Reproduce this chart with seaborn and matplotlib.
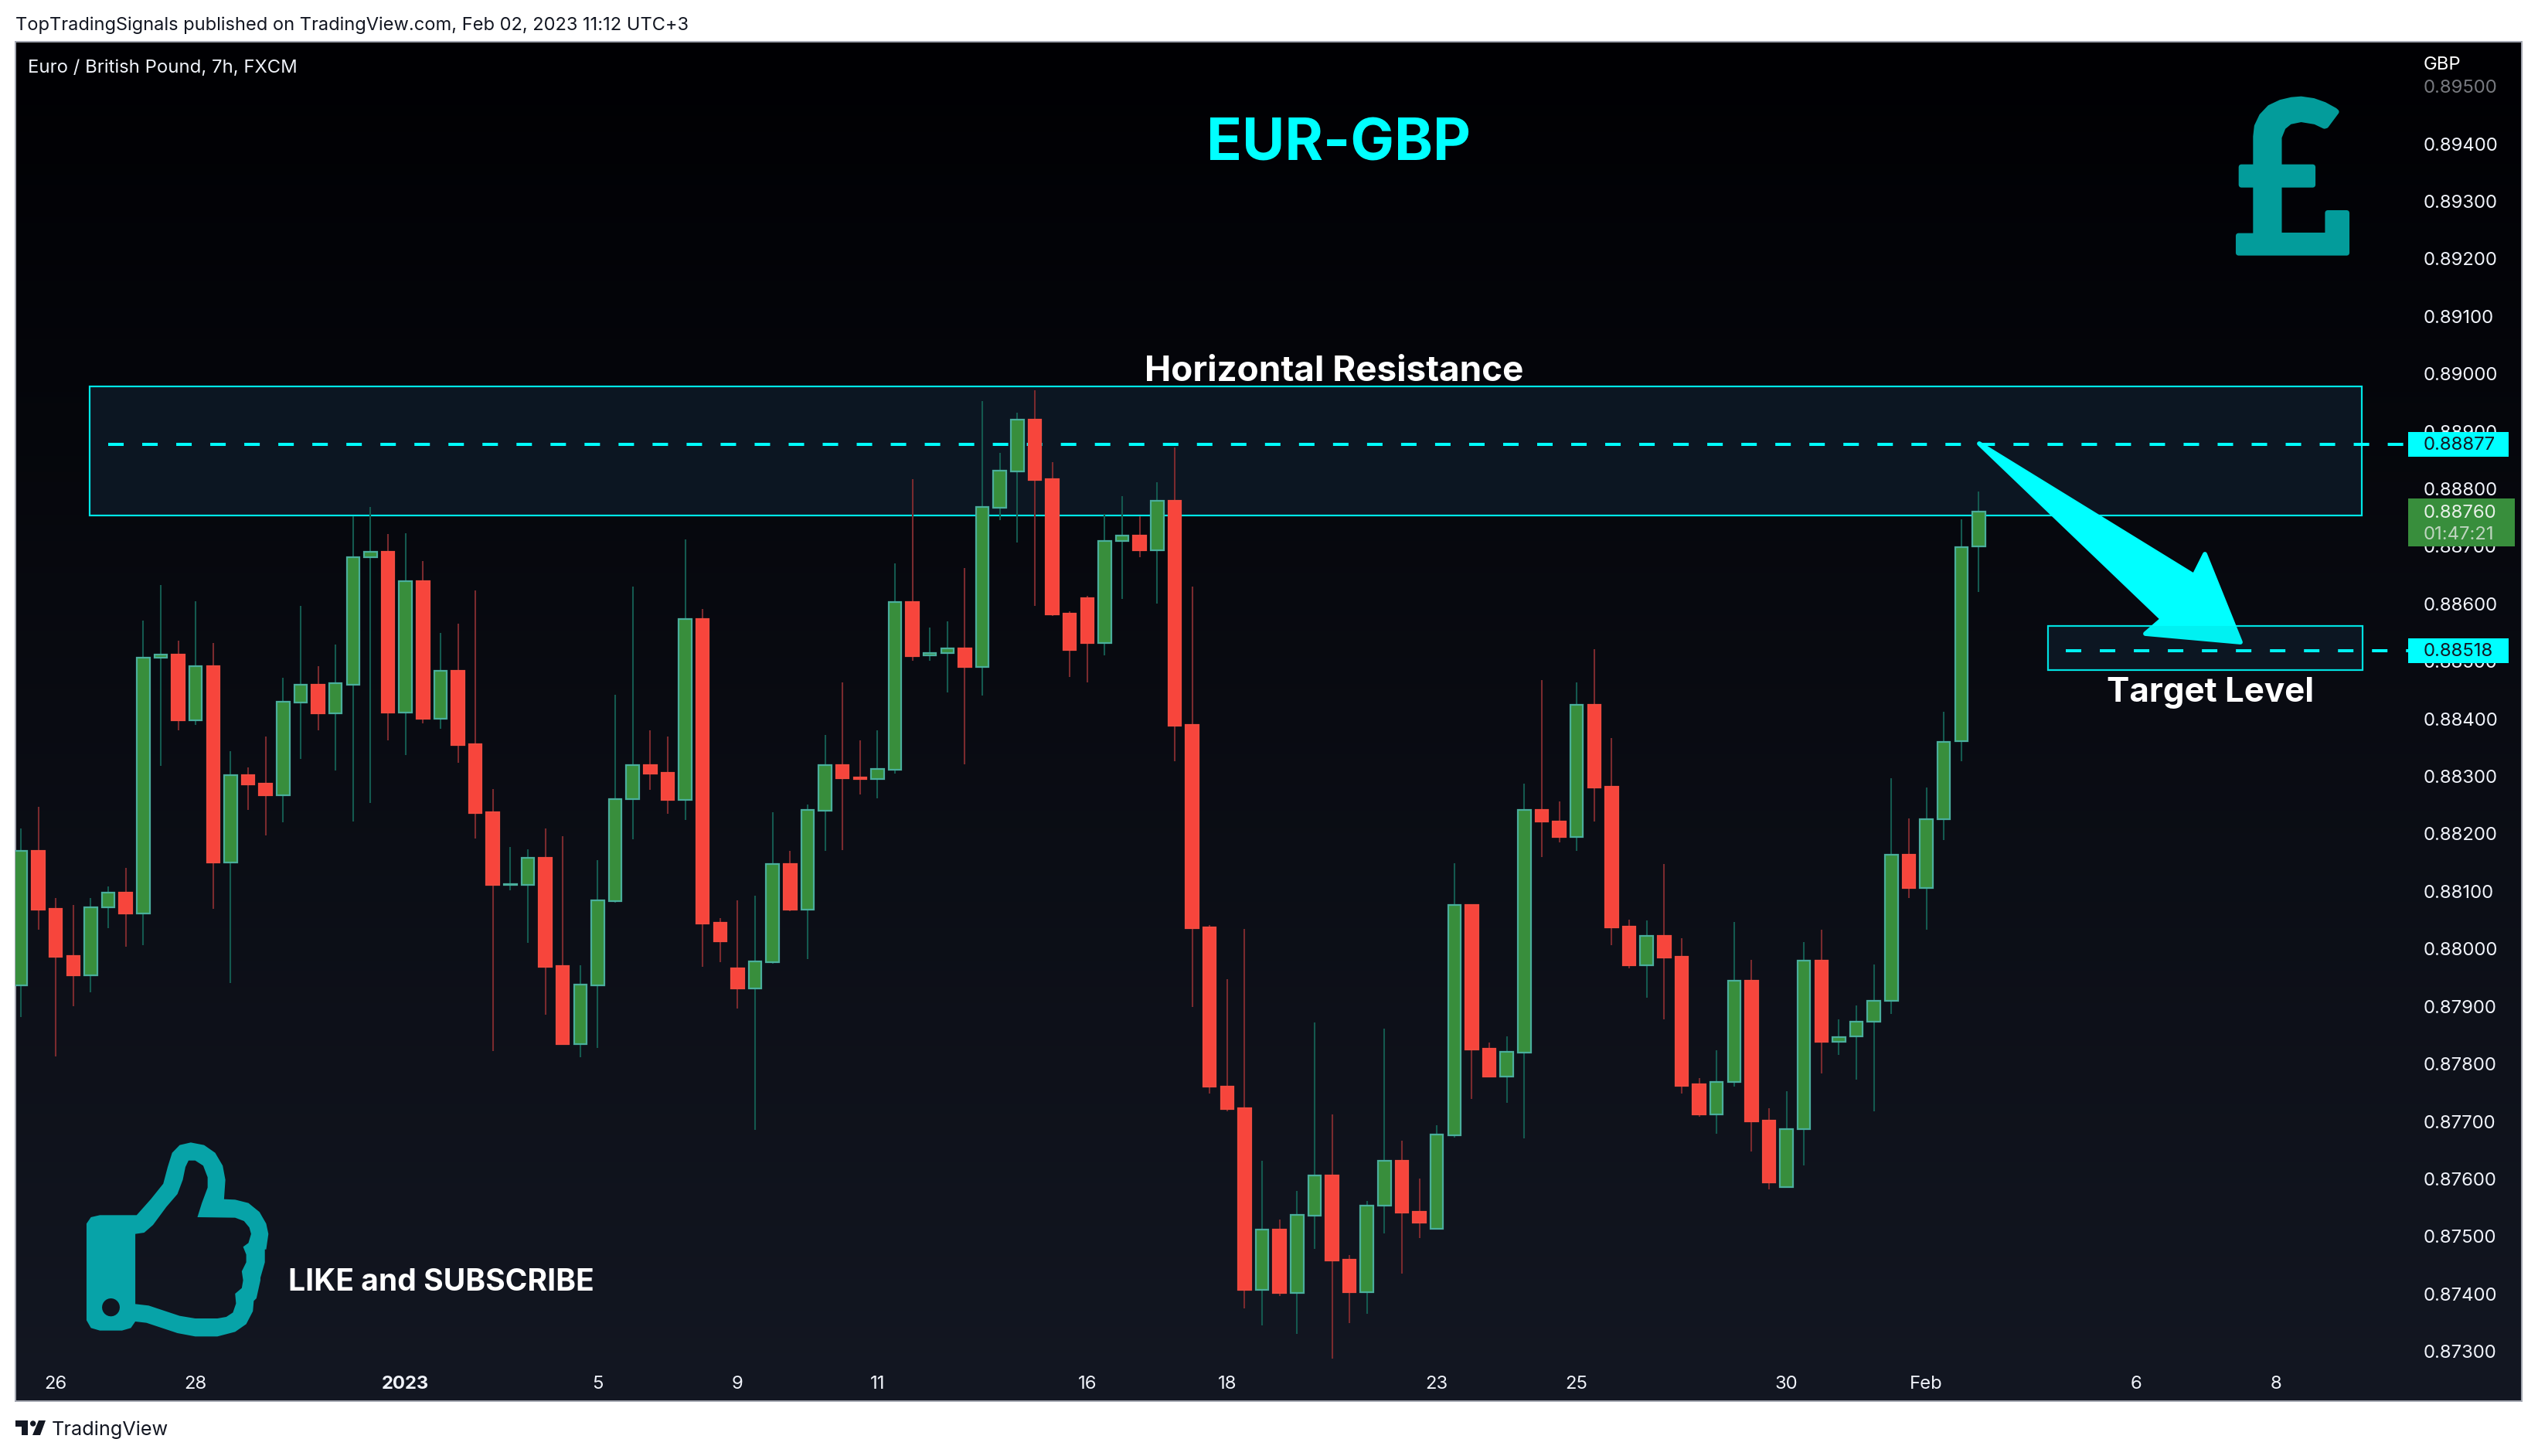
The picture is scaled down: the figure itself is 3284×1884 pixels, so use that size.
import numpy as np
import pandas as pd
import matplotlib
matplotlib.use("Agg")
import matplotlib.pyplot as plt
from matplotlib.colors import LinearSegmentedColormap
from matplotlib.patches import Polygon, Rectangle, Ellipse, PathPatch
from matplotlib.path import Path
import seaborn as sns

# ---------- data (prices in 1e-5 GBP) ----------
directions = ("GRRRGGRGGR" "GRGRRGGRGG" "GRGRGRRRGG" "RRGGGGRRGR" "RRGGRGGRRG" "GRGGRGGGRR"
              "RRGGRGRRRR" "RGRGGRRGGR" "RGGRRGGRRG" "RRRGRRRGGR" "RGGRGGGGRG" "GGG")
highs = [88209,88247,88088,88076,88088,88109,88141,88571,88633,88536,
         88605,88532,88344,88316,88370,88471,88597,88491,88529,88752,
         88769,88721,88723,88674,88550,88566,88623,88278,88177,88173,
         88209,88196,87972,88154,88442,88630,88380,88369,88712,88591,
         88054,88085,88092,88237,88170,88251,88372,88463,88362,88380,
         88670,88817,88559,88570,88663,88953,88862,88933,88971,88846,
         88587,88614,88757,88788,88753,88811,88872,88630,88042,87947,
         88035,87632,87529,87579,87872,87712,87468,87562,87861,87666,
         87601,87693,88149,88076,87837,87848,88288,88468,88257,88463,
         88521,88367,88051,88049,88147,88019,87775,87824,88047,87981,
         87723,87753,88012,88033,87878,87901,87973,88297,88227,88281,
         88413,88747,88796]
body_tops = [88171,88171,88070,87988,88072,88098,88098,88506,88512,88512,
             88491,88491,88302,88302,88287,88430,88460,88460,88462,88681,
             88690,88690,88640,88640,88483,88483,88356,88238,88113,88158,
             88158,87970,87938,88084,88261,88319,88319,88306,88574,88574,
             88045,87966,87978,88147,88147,88241,88319,88319,88298,88313,
             88603,88603,88514,88523,88523,88768,88832,88920,88920,88817,
             88583,88610,88710,88719,88719,88779,88779,88389,88037,87760,
             87723,87512,87512,87538,87606,87606,87459,87553,87632,87632,
             87543,87677,88076,88076,87827,87821,88241,88241,88221,88425,
             88425,88282,88039,88022,88022,87986,87764,87768,87945,87945,
             87701,87686,87980,87980,87847,87873,87910,88164,88164,88225,
             88360,88699,88760]
body_bottoms = [87937,88068,87986,87954,87954,88072,88062,88062,88506,88398,
                88398,88150,88150,88286,88267,88267,88429,88410,88410,88460,
                88681,88411,88411,88400,88400,88354,88236,88111,88111,88111,
                87969,87834,87834,87937,88083,88260,88305,88259,88259,88044,
                88013,87931,87931,87977,88068,88068,88240,88297,88295,88295,
                88312,88509,88510,88514,88490,88490,88767,88831,88815,88582,
                88520,88532,88532,88710,88693,88693,88388,88036,87760,87722,
                87407,87407,87401,87401,87536,87458,87403,87403,87553,87542,
                87524,87513,87676,87825,87778,87778,87820,88221,88194,88194,
                88281,88037,87972,87972,87985,87762,87712,87712,87768,87700,
                87594,87586,87686,87838,87838,87848,87874,87910,88106,88106,
                88225,88361,88700]
lows = [87882,88034,87813,87900,87924,88036,88004,88006,88318,88380,
        88390,88070,87941,88241,88197,88220,88331,88380,88310,88222,
        88254,88362,88337,88392,88383,88323,88192,87822,88102,88011,
        87885,87834,87812,87828,88080,88191,88277,88235,88224,87969,
        87977,87896,87685,87974,88065,87982,88170,88172,88268,88262,
        88305,88501,88501,88446,88321,88440,88746,88707,88596,88579,
        88473,88463,88511,88609,88681,88601,88326,87899,87749,87718,
        87375,87345,87396,87330,87478,87288,87349,87365,87505,87435,
        87497,87513,87672,87739,87777,87732,87670,88160,88185,88170,
        88221,88006,87966,87915,87878,87748,87708,87679,87760,87648,
        87582,87586,87624,87783,87815,87772,87718,87887,88089,88034,
        88189,88326,88621]

price_ticks = [0.873,0.874,0.875,0.876,0.877,0.878,0.879,0.880,0.881,0.882,0.883,0.884,
               0.885,0.886,0.887,0.888,0.889,0.890,0.891,0.892,0.893,0.894,0.895]
date_labels = ["26","28","2023","5","9","11","16","18","23","25","30","Feb","6","8"]
date_positions = [2,10,22,33,41,49,61,69,81,89,101,109,121,129]
resistance_level = 0.88877
target_level = 0.88518
last_price = 0.88760

UNIT = 1e-5
df = pd.DataFrame({"i": np.arange(len(highs)), "dir": list(directions),
                   "high": np.array(highs)*UNIT, "top": np.array(body_tops)*UNIT,
                   "bottom": np.array(body_bottoms)*UNIT, "low": np.array(lows)*UNIT})
df["height"] = df["top"] - df["bottom"]

# ---------- pixel helpers ----------
W, H = 3284, 1884
def xi(px): return (np.asarray(px, float) - 27) / 22.62
def yv(py): return 0.892 - (np.asarray(py, float) - 335) / 74400
L_, R_, T_, B_ = 20, 3263, 54, 1813

sns.set_theme(style="ticks", rc={"axes.grid": False})
plt.rcParams["font.family"] = ["Inter", "DejaVu Sans"]

fig = plt.figure(figsize=(W/100, H/100), dpi=100, facecolor="white")
ax = fig.add_axes([L_/W, 1-B_/H, (R_-L_)/W, (B_-T_)/H])

# gradient panel
cmap = LinearSegmentedColormap.from_list("bg", ["#000003", "#131722"])
ax.imshow(np.linspace(0, 1, 256).reshape(-1, 1), extent=[0, 1, 0, 1], transform=ax.transAxes,
          aspect="auto", cmap=cmap, zorder=0, origin="upper")

CY = "#00E7E7"
ZONE = "#0C1622"
# zones
ax.add_patch(Rectangle((xi(116), yv(667)), xi(3056)-xi(116), yv(500)-yv(667),
                       fc=ZONE, ec=CY, lw=1.6, zorder=1))
ax.add_patch(Rectangle((xi(2650), yv(867)), xi(3057)-xi(2650), yv(810)-yv(867),
                       fc=ZONE, ec=CY, lw=1.6, zorder=1))
# levels
ax.plot([xi(140), xi(3116)], [resistance_level]*2, color="#00FFFF", lw=2.9, dashes=(4.97, 5.96),
        dash_capstyle="butt", zorder=1.5)
ax.plot([xi(2673), xi(3116)], [target_level]*2, color="#00FFFF", lw=2.9, dashes=(4.97, 5.96),
        dash_capstyle="butt", zorder=1.5)

# candles
up, down = df[df["dir"] == "G"], df[df["dir"] == "R"]
ax.vlines(up["i"], up["low"], up["high"], color="#14594F", lw=1.5, zorder=2.9)
ax.vlines(down["i"], down["low"], down["high"], color="#7A2A2E", lw=1.5, zorder=2.9)
sns.barplot(data=up, x="i", y="height", bottom=up["bottom"].values, native_scale=True, ax=ax,
            color="#388E3C", saturation=1, width=0.73, errorbar=None,
            edgecolor="#4AAE9C", linewidth=1.6, zorder=3)
sns.barplot(data=down, x="i", y="height", bottom=down["bottom"].values, native_scale=True, ax=ax,
            color="#F7453C", saturation=1, width=0.73, errorbar=None,
            edgecolor="#F24B40", linewidth=1.6, zorder=3)

# axes ticks drawn inside the panel
ax.set_xlabel(""); ax.set_ylabel("")
ax.yaxis.tick_right()
ax.set_yticks(price_ticks)
ax.set_yticklabels([f"{p:.5f}" for p in price_ticks])
ax.set_xticks(date_positions)
ax.set_xticklabels(date_labels)
ax.tick_params(axis="y", length=0, pad=-(R_-3136)*0.72, labelsize=17.2, labelcolor="#F0F3FA")
ax.tick_params(axis="x", length=0, pad=-(B_-1780)*0.72, labelsize=17.2, labelcolor="#F0F3FA")
for t in ax.get_yticklabels():
    if t.get_text() == "0.89500":
        t.set_color("#77797F")
for t in ax.get_xticklabels():
    if t.get_text() == "2023":
        t.set_fontweight("bold")
for s in ax.spines.values():
    s.set_color("#A5A8B2"); s.set_linewidth(1.4); s.set_visible(True)

def poly(px_pts, **kw):
    p = np.array(px_pts, float)
    return Polygon(np.c_[xi(p[:, 0]), yv(p[:, 1])], closed=True, **kw)

# arrow
arrow = [(2561, 574), (2839, 745), (2853, 717), (2899, 831), (2776, 820), (2798, 801)]
ax.add_patch(poly(arrow, fc="#00FFFF", ec="#00FFFF", lw=4.2, joinstyle="round", zorder=4))
# faint veil of the target zone over the arrow tip
ax.add_patch(Rectangle((xi(2650), yv(867)), xi(3057)-xi(2650), yv(810)-yv(867),
                       fc=ZONE, ec="none", alpha=0.06, zorder=4.5))

# pound icon
z5 = [(587,915),(587,718),(537,718),(537,648),(587,648),(587,530),(591,490),(608,450),(636,417),
      (674,397),(712,387),(745,384),(788,391),(826,406),(862,428),(868,434),(832,488),(826,490),
      (794,473),(745,464),(706,473),(683,494),(669,533),(669,648),(786,648),(786,718),(669,718),
      (669,913),(837,913),(837,826),(904,826),(904,982),(527,982),(527,915)]
ax.add_patch(poly([(2700+x/2.685, y/3) for x, y in z5], fc="#039C9B", ec="#039C9B", lw=4.8,
                  joinstyle="round", zorder=4))

# thumb icon (compound path)
outer = [(195,490),(205,465),(225,457),(308,457),(340,395),(368,335),(378,270),(388,215),(405,185),
         (430,175),(460,185),(485,215),(502,265),(508,320),(505,395),(530,397),(560,410),(585,445),
         (600,490),(605,530),(600,590),(597,590),(597,640),(587,700),(587,710),(578,780),(572,790),
         (570,830),(555,880),(530,910),(490,928),(440,928),(400,915),(365,895),(330,875),(305,870),
         (295,895),(275,905),(225,905),(205,895),(195,865)]
inner = [(305,530),(325,525),(345,495),(375,425),(400,375),(412,320),(418,270),(425,245),(440,245),
         (458,265),(468,310),(468,350),(455,410),(445,465),(530,467),(550,480),(562,505),(566,530),
         (560,565),(548,580),(555,610),(555,640),(545,675),(548,710),(545,740),(530,762),(532,800),
         (525,835),(510,852),(490,858),(440,858),(405,848),(370,828),(335,808),(305,802)]
ang = np.linspace(0, -2*np.pi, 25)[:-1]
hole = list(zip(250+20*np.cos(ang), 815+35*np.sin(ang)))
def z6(pts):
    p = np.array(pts, float)
    return np.c_[xi(p[:, 0]/1.742), yv(1420+p[:, 1]/3)]
verts, codes = [], []
for ring in (outer, inner[::-1], hole):
    r = z6(ring)
    verts += list(r) + [r[0]]
    codes += [Path.MOVETO] + [Path.LINETO]*(len(r)-1) + [Path.CLOSEPOLY]
ax.add_patch(PathPatch(Path(verts, codes), fc="#07A3A8", ec="none", zorder=4))

# price tags
def tag(y0, y1, x1, color):
    ax.add_patch(Rectangle((xi(3116), yv(y1)), xi(x1)-xi(3116), yv(y0)-yv(y1), fc=color, ec="none", zorder=5))
def py(p): return 335 + (0.892-p)*74400
for lvl in (resistance_level, target_level):
    tag(py(lvl)-16, py(lvl)+16, 3246, "#00FFFF")
    ax.text(xi(3136), yv(py(lvl)+1), f"{lvl:.5f}", color="#131722", fontsize=17.2, va="center", ha="left", zorder=6)
tag(645, 707, 3254, "#388E3C")
ax.text(xi(3136), yv(664), f"{last_price:.5f}", color="#E8F0E8", fontsize=17.2, va="center", ha="left", zorder=6)
ax.text(xi(3136), yv(692), "01:47:21", color="#BFD5C0", fontsize=17.2, va="center", ha="left", zorder=6)

# labels
ax.text(xi(3136), yv(84), "GBP", color="white", fontsize=17.2, va="center", ha="left", zorder=6)
ax.text(xi(36), yv(88), "Euro / British Pound, 7h, FXCM", color="#F0F3FA", fontsize=17.2, va="center", ha="left", zorder=6)
ax.text(xi(1732), yv(188), "EUR-GBP", color="#00FFFF", fontsize=54.5, fontweight="bold", va="center", ha="center", zorder=6)
ax.text(xi(1726), yv(481), "Horizontal Resistance", color="white", fontsize=33, fontweight="bold", va="center", ha="center", zorder=6)
ax.text(xi(2860), yv(897), "Target Level", color="white", fontsize=31.6, fontweight="bold", va="center", ha="center", zorder=6)
ax.text(xi(373), yv(1660), "LIKE and SUBSCRIBE", color="white", fontsize=28.1, fontweight="bold", va="center", ha="left", zorder=6)

ax.set_xlim(xi(L_), xi(R_))
ax.set_ylim(yv(B_), yv(T_))

# header / footer outside the panel
fig.text(20/W, 1-33/H, "TopTradingSignals published on TradingView.com, Feb 02, 2023 11:12 UTC+3",
         color="#131722", fontsize=17.0, va="center", ha="left")
fig.text(66.5/W, 1-1850/H, "TradingView", color="#131722", fontsize=18.2, va="center", ha="left")
def fpoly(pts):
    p = np.array(pts, float)
    fig.add_artist(Polygon(np.c_[p[:, 0]/W, 1-p[:, 1]/H], closed=True, fc="#131722", ec="none",
                           transform=fig.transFigure))
fpoly([(20,1838),(36,1838),(36,1857),(28,1857),(28,1846),(20,1846)])
fpoly([(50,1838),(59,1838),(52,1857),(42,1857)])
fig.add_artist(Ellipse((42.7/W, 1-1842/H), 7.4/W, 7.4/H, fc="#131722", ec="none", transform=fig.transFigure))

fig.savefig("out.png", dpi=100, facecolor="white")
